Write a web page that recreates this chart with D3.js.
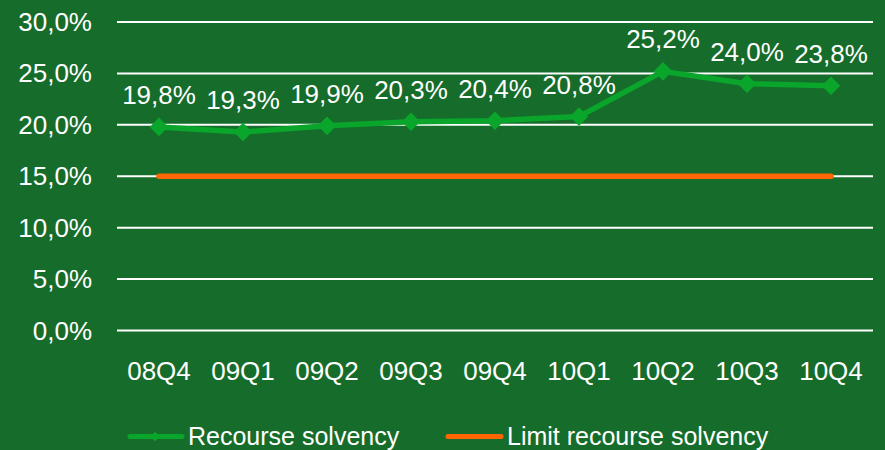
<!DOCTYPE html>
<html><head><meta charset="utf-8">
<script src="https://cdn.jsdelivr.net/npm/d3@7/dist/d3.min.js"></script>
<style>html,body{margin:0;padding:0;background:#166C2A;}svg{display:block;}</style>
</head><body>
<script>
const categories = ["08Q4","09Q1","09Q2","09Q3","09Q4","10Q1","10Q2","10Q3","10Q4"];
const solvency = [19.8,19.3,19.9,20.3,20.4,20.8,25.2,24.0,23.8];
const limit = [15,15,15,15,15,15,15,15,15];
const yTicks = [0,5,10,15,20,25,30];
const seriesNames = ["Recourse solvency","Limit recourse solvency"];

const W=885,H=450;
const svg=d3.select("body").append("svg").attr("width",W).attr("height",H);
svg.append("rect").attr("width",W).attr("height",H).attr("fill","#166C2A");
const font="'Liberation Sans', Arial, sans-serif";
const fmt=v=>d3.format(".1f")(v).replace(".",",")+"%";

const x=d3.scaleBand().domain(categories).range([117,873]);
const y=d3.scaleLinear().domain([0,30]).range([330.5,22]);
const cx=d=>x(d)+x.bandwidth()/2;

// grid
svg.append("g").selectAll("line").data(yTicks).join("line")
  .attr("x1",117).attr("x2",873).attr("y1",d=>y(d)).attr("y2",d=>y(d))
  .attr("stroke","#ffffff").attr("stroke-width",2);
// y labels
svg.append("g").selectAll("text").data(yTicks).join("text")
  .attr("x",92).attr("y",d=>y(d)+9).attr("text-anchor","end")
  .attr("fill","#fff").attr("font-family",font).attr("font-size",26)
  .text(fmt);
// x labels
svg.append("g").selectAll("text").data(categories).join("text")
  .attr("x",cx).attr("y",380).attr("text-anchor","middle")
  .attr("fill","#fff").attr("font-family",font).attr("font-size",26)
  .text(d=>d);

const line=d3.line().x((d,i)=>cx(categories[i])).y(d=>y(d));
svg.append("path").datum(limit).attr("d",line).attr("fill","none")
  .attr("stroke","#FF6600").attr("stroke-width",5.5).attr("stroke-linecap","round");
svg.append("path").datum(solvency).attr("d",line).attr("fill","none")
  .attr("stroke","#0AA52B").attr("stroke-width",5.5).attr("stroke-linejoin","round");
const diamond=d3.symbol().type(d3.symbolDiamond2).size(220);
svg.append("g").selectAll("path").data(solvency).join("path")
  .attr("d",diamond)
  .attr("transform",(d,i)=>`translate(${cx(categories[i])},${y(d)})`)
  .attr("fill","#0AA52B");
svg.append("g").selectAll("text").data(solvency).join("text")
  .attr("x",(d,i)=>cx(categories[i])).attr("y",d=>y(d)-23).attr("text-anchor","middle")
  .attr("fill","#fff").attr("font-family",font).attr("font-size",26)
  .text(fmt);

// legend
const lg=svg.append("g");
lg.append("line").attr("x1",130).attr("x2",182).attr("y1",436.5).attr("y2",436.5)
  .attr("stroke","#0AA52B").attr("stroke-width",5).attr("stroke-linecap","round");
lg.append("path").attr("d",d3.symbol().type(d3.symbolDiamond2).size(60))
  .attr("transform","translate(155,436.5)").attr("fill","#0AA52B");
lg.append("text").attr("x",188).attr("y",445).attr("fill","#fff")
  .attr("font-family",font).attr("font-size",25).text(seriesNames[0]);
lg.append("line").attr("x1",448).attr("x2",501).attr("y1",436.5).attr("y2",436.5)
  .attr("stroke","#FF6600").attr("stroke-width",5).attr("stroke-linecap","round");
lg.append("text").attr("x",507).attr("y",445).attr("fill","#fff")
  .attr("font-family",font).attr("font-size",25).text(seriesNames[1]);
</script>
</body></html>
